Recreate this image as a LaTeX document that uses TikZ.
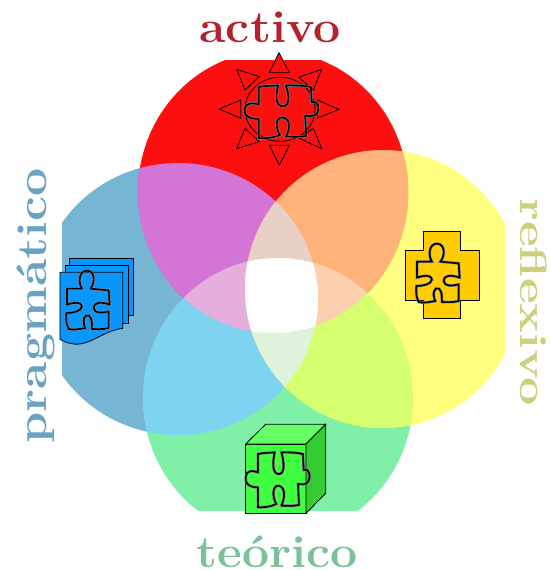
\documentclass[tikz,border=0pt]{standalone}
\usepackage{fontspec}
\setmainfont{Latin Modern Roman}
\usepackage{graphicx}
\definecolor{cR}{HTML}{FC0F0F}
\definecolor{cB}{HTML}{77B5D5}
\definecolor{cY}{HTML}{FFFF80}
\definecolor{cG}{HTML}{80F0A8}
\definecolor{cRB}{HTML}{D474D4}
\definecolor{cRY}{HTML}{FFB37A}
\definecolor{cBG}{HTML}{7DD3F0}
\definecolor{cYG}{HTML}{D6FF70}
\definecolor{cRBY}{HTML}{E8D0C4}
\definecolor{cRBG}{HTML}{E6AEDC}
\definecolor{cRYG}{HTML}{FCCFAE}
\definecolor{cBYG}{HTML}{DFF3DC}
\definecolor{tR}{HTML}{B3222E}
\definecolor{tB}{HTML}{6AA3C2}
\definecolor{tY}{HTML}{CDCF7A}
\definecolor{tG}{HTML}{7CC298}
\definecolor{dB}{HTML}{0A96FF}
\definecolor{cX}{HTML}{FFCC00}
\definecolor{gF}{HTML}{40FF40}
\definecolor{gT}{HTML}{66FF66}
\definecolor{gS}{HTML}{33CC33}
\newcommand{\cRed}{(273,192) ellipse [x radius=135pt,y radius=141pt]}
\newcommand{\cBlue}{(178,299) ellipse [x radius=140pt,y radius=136pt]}
\newcommand{\cYel}{(383,289) ellipse [x radius=138pt,y radius=139pt]}
\newcommand{\cGre}{(278,398) ellipse [x radius=135pt,y radius=140pt]}
\newcommand{\lens}[3]{\begin{scope}\clip #1;\clip #2;\fill[#3] #1;\end{scope}}
\newcommand{\tlens}[4]{\begin{scope}\clip #1;\clip #2;\clip #3;\fill[#4] #1;\end{scope}}
\newcommand{\seam}[2]{\begin{scope}\clip (0,0) rectangle (550,288);\clip #1;\draw[#2,line width=.8pt] \cRed;\end{scope}}
\tikzset{
 outl/.style={draw=black,line width=.8pt,line join=miter},
 lab/.style={inner sep=0,anchor=base,font=\fontsize{#1}{#1}\selectfont\bfseries},
 piecestroke/.style={line width=1.6pt,draw=black,line join=round,preaction={draw=black!50,line width=2.7pt}},
 pieceA/.pic={
  \path[piecestroke] (-63,-43) -- (-18,-43)
   .. controls (-30,-60) and (-28,-97) .. (-3,-97)
   .. controls (22,-97) and (22,-60) .. (7,-43)
   -- (62,-38) -- (65,5)
   .. controls (40,-5) and (15,-2) .. (17,15)
   .. controls (19,33) and (45,30) .. (62,25)
   -- (62,75) .. controls (45,80) and (25,78) .. (12,78)
   .. controls (10,65) and (15,50) .. (3,38)
   .. controls (-12,30) and (-18,55) .. (-8,75)
   .. controls (-25,78) and (-45,82) .. (-58,78)
   .. controls (-68,60) and (-65,40) .. (-65,30)
   .. controls (-45,30) and (-20,25) .. (-18,10)
   .. controls (-20,-5) and (-45,-2) .. (-63,5) -- cycle;},
 pieceB/.pic={
  \path[piecestroke] (-60,-75) .. controls (-40,-80) and (-25,-78) .. (-10,-80)
   .. controls (-15,-55) and (-20,-15) .. (3,-15)
   .. controls (22,-15) and (18,-55) .. (10,-80)
   .. controls (30,-80) and (55,-80) .. (75,-75)
   -- (77,-27)
   .. controls (95,-35) and (98,-5) .. (92,5)
   .. controls (85,20) and (70,15) .. (60,15)
   -- (63,78) .. controls (45,82) and (25,80) .. (10,80)
   .. controls (20,60) and (25,22) .. (0,20)
   .. controls (-20,22) and (-15,60) .. (-5,75)
   .. controls (-25,85) and (-45,85) .. (-60,85)
   -- (-60,25)
   .. controls (-85,25) and (-100,15) .. (-97,-5)
   .. controls (-93,-30) and (-75,-25) .. (-60,-20) -- cycle;},
}
\begin{document}
\begin{tikzpicture}[x=1pt,y=-1pt]
\useasboundingbox (0,0) rectangle (550,570);
\fill[white] (0,0) rectangle (550,570);
\begin{scope}
 \clip (62,60) rectangle (505,510);
 \fill[cB] \cBlue;
 \fill[cG] \cGre;
 \fill[cY] \cYel;
 \fill[cR] \cRed;
 \lens{\cRed}{\cBlue}{cRB}
 \lens{\cRed}{\cYel}{cRY}
 \lens{\cBlue}{\cGre}{cBG}
 \lens{\cYel}{\cGre}{cYG}
 \seam{\cBlue}{cRB}
 \seam{\cYel}{cRY}
 \tlens{\cRed}{\cBlue}{\cYel}{cRBY}
 \tlens{\cRed}{\cBlue}{\cGre}{cRBG}
 \tlens{\cRed}{\cYel}{\cGre}{cRYG}
 \tlens{\cBlue}{\cYel}{\cGre}{cBYG}
 \begin{scope}
  \clip \cRed; \clip \cBlue; \clip \cYel; \fill[white] \cGre;
 \end{scope}
\end{scope}
% labels
\node[lab=45,text=tR] (lact) at (270,42) {\scalebox{1.07}[1]{activo}};
\node[lab=42,text=tB,rotate=90] (lprag) at (46,306) {\scalebox{1.19}[1]{pragmático}};
\node[lab=38,text=tY,rotate=-90] (lref) at (520,302) {\scalebox{1.32}[1]{reflexivo}};
\node[lab=45,text=tG] (lteo) at (277,567) {\scalebox{1.07}[1]{teórico}};
% sun
\begin{scope}[shift={(200,40)},x=.3333pt,y=-.3333pt]
 \draw[outl,fill=cR] (240,208) ellipse [x radius=35pt,y radius=32pt];
 \draw[outl,fill=cR] (237,38) -- (208,98) -- (268,98) -- cycle;
 \draw[outl,fill=cR] (238,375) -- (208,316) -- (268,316) -- cycle;
 \draw[outl,fill=cR] (58,207) -- (122,180) -- (122,235) -- cycle;
 \draw[outl,fill=cR] (417,208) -- (352,180) -- (352,235) -- cycle;
 \draw[outl,fill=cR] (110,88) -- (178,110) -- (135,150) -- cycle;
 \draw[outl,fill=cR] (365,88) -- (296,112) -- (340,150) -- cycle;
 \draw[outl,fill=cR] (110,326) -- (178,305) -- (135,265) -- cycle;
 \draw[outl,fill=cR] (365,326) -- (298,295) -- (340,265) -- cycle;
\end{scope}
\pic[xscale=.385,yscale=.32] at (282,111) {pieceB};
% documents
\begin{scope}[shift={(40,240)},x=.3333pt,y=-.3333pt]
 \draw[outl,fill=dB] (88,55) rectangle (280,225);
 \draw[outl,fill=dB] (75,75) rectangle (264,250);
 \draw[outl,fill=dB] (60,97) -- (248,97) -- (248,265) .. controls (190,272) and (150,318) .. (100,312) .. controls (85,310) and (70,304) .. (60,298) -- cycle;
\end{scope}
\pic[scale=.3333] at (88,303) {pieceA};
% cross
\begin{scope}[shift={(390,220)},x=.3333pt,y=-.3333pt]
 \draw[outl,fill=cX] (100,35) -- (212,35) -- (212,90) -- (267,90) -- (267,240) -- (212,240) -- (212,295) -- (100,295) -- (100,240) -- (45,240) -- (45,90) -- (100,90) -- cycle;
\end{scope}
\pic[scale=.3333] at (438,276) {pieceA};
% cube
\begin{scope}[shift={(230,410)},x=.3333pt,y=-.3333pt]
 \draw[outl,fill=gF] (47,102) rectangle (228,310);
 \draw[outl,fill=gT] (47,102) -- (107,43) -- (287,43) -- (228,102) -- cycle;
 \draw[outl,fill=gS] (228,102) -- (287,43) -- (287,250) -- (228,310) -- cycle;
\end{scope}
\pic[scale=.3333] at (278,479) {pieceB};
\end{tikzpicture}
\end{document}
